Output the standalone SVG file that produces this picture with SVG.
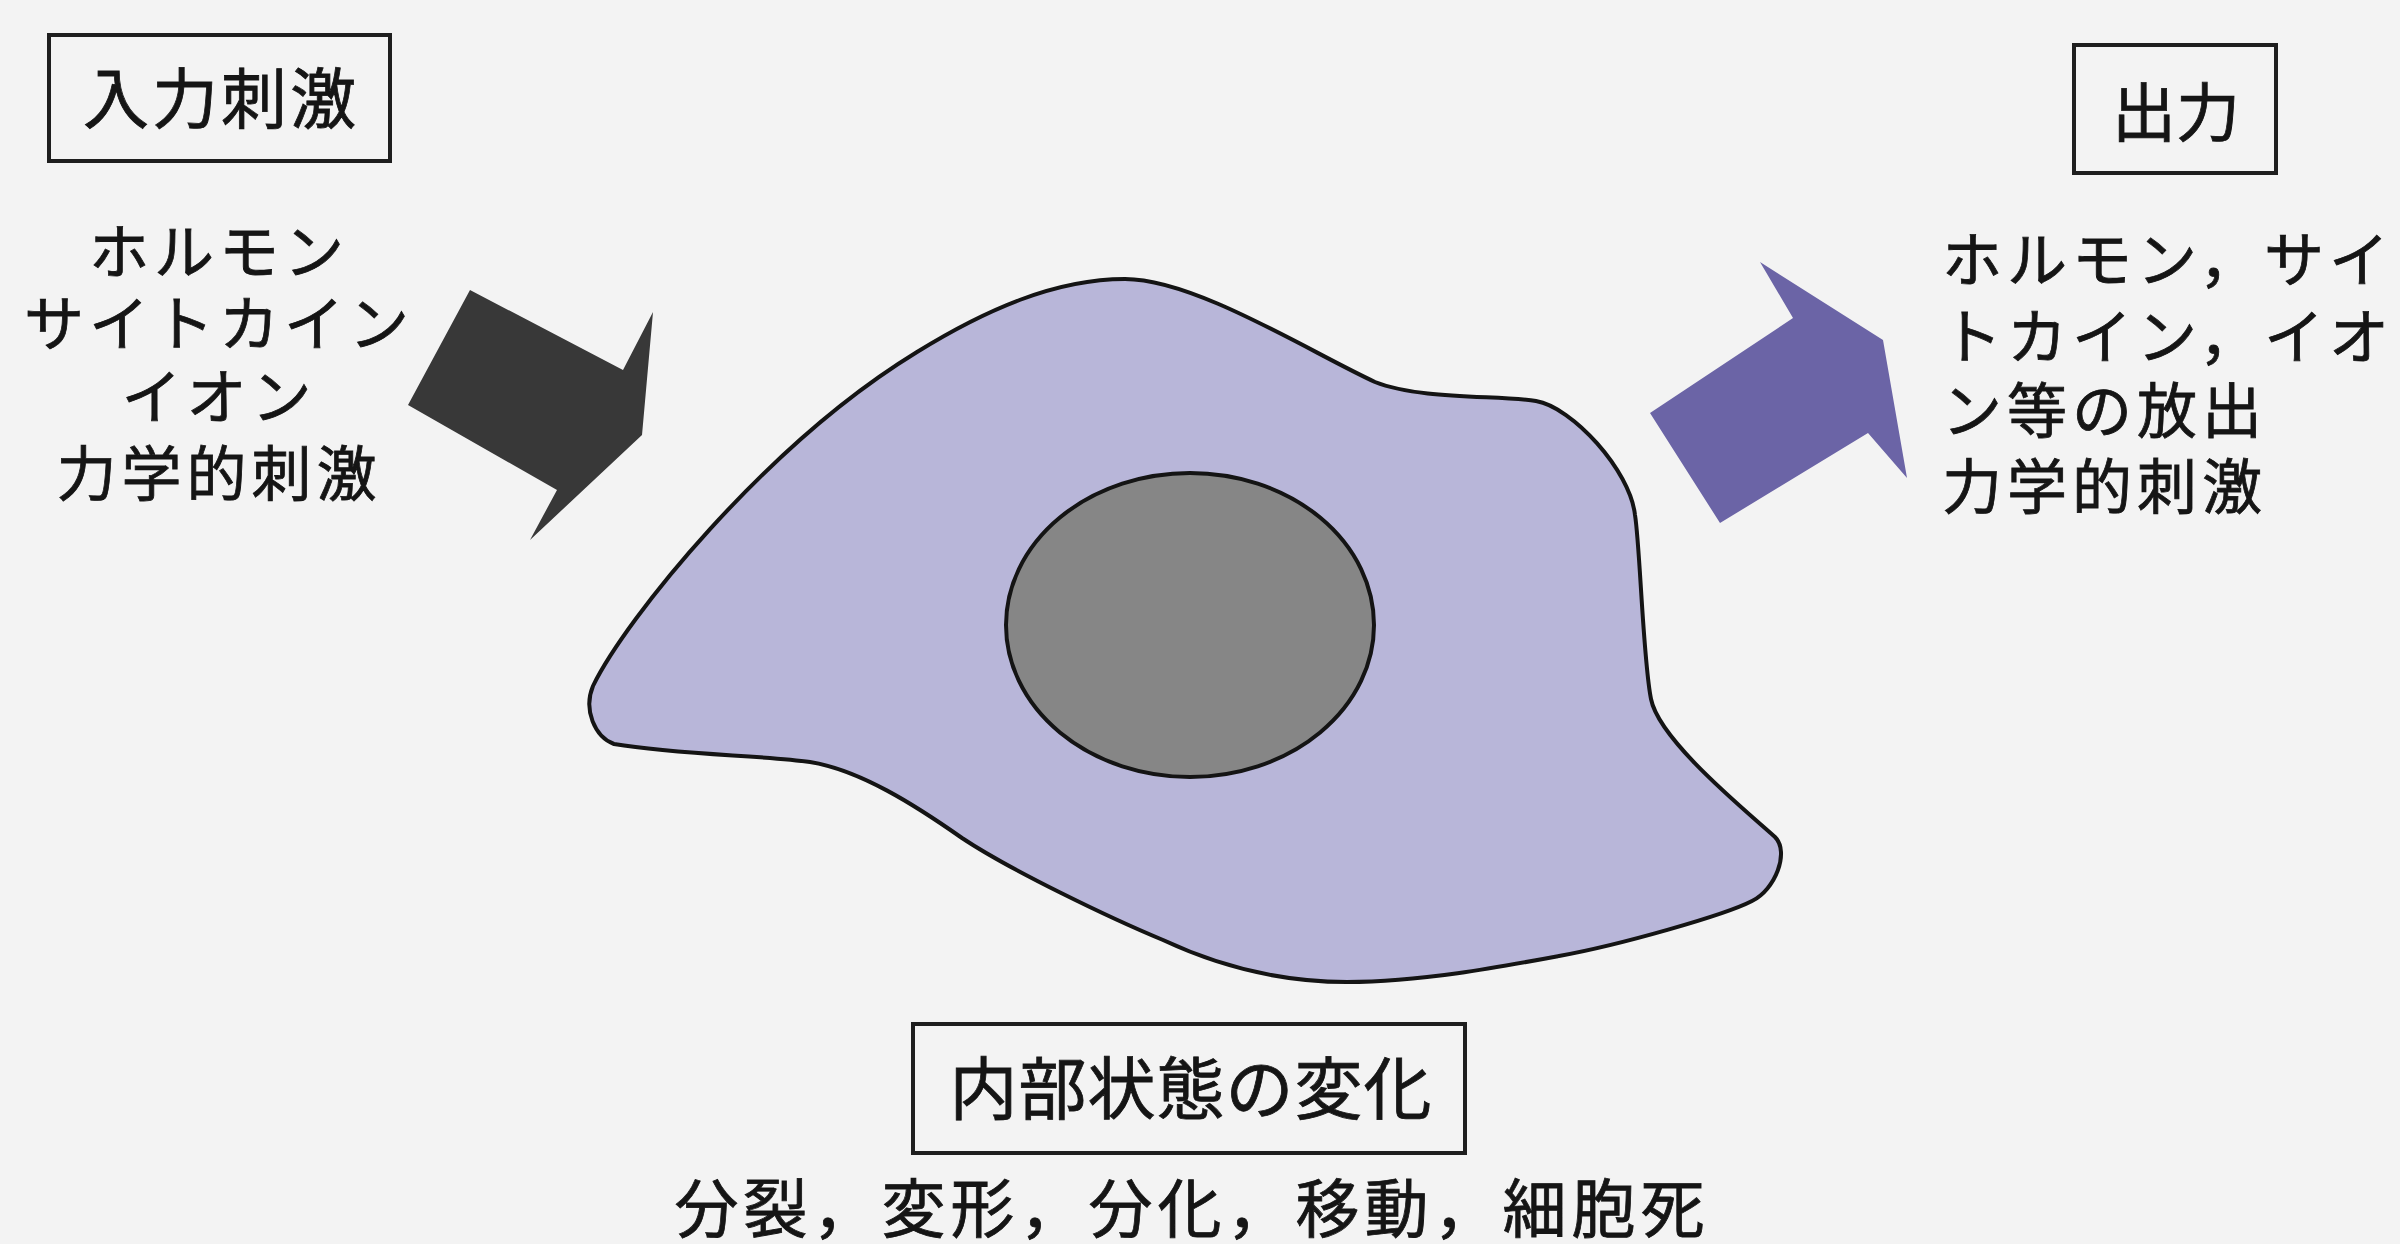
<svg xmlns="http://www.w3.org/2000/svg" width="2400" height="1244" viewBox="0 0 2400 1244">
  <style>
    .t { font-family: "Noto Sans CJK JP", "Noto Sans CJK SC", sans-serif; fill: #151515; stroke: #151515; stroke-width: 0.8; font-weight: 400; }
    .box { fill: none; stroke: #1e1e1e; stroke-width: 4; }
    .outline { stroke: #141414; stroke-width: 4; stroke-linejoin: round; }
  </style>
  <rect x="0" y="0" width="2400" height="1244" fill="#f3f3f3"/>

  <!-- input stimulus label -->
  <g id="input-label">
    <rect class="box" x="49" y="35" width="341" height="126"/>
    <text class="t" x="221" y="123" font-size="66" letter-spacing="3" text-anchor="middle">入力刺激</text>
  </g>
  <g id="input-list">
    <text class="t" x="219" y="274" font-size="60" letter-spacing="5" text-anchor="middle">ホルモン</text>
    <text class="t" x="219" y="346" font-size="60" letter-spacing="5" text-anchor="middle">サイトカイン</text>
    <text class="t" x="219" y="419" font-size="60" letter-spacing="5" text-anchor="middle">イオン</text>
    <text class="t" x="219" y="496" font-size="60" letter-spacing="5" text-anchor="middle">力学的刺激</text>
  </g>

  <!-- the cell and its nucleus -->
  <g id="cell">
    <path class="outline" fill="#b8b6d9" d="M 1125 279
      C 1195 279, 1310 352, 1375 382
      C 1420 400, 1500 395, 1536 401
      C 1572 407, 1630 470, 1635 515
      C 1640 545, 1643 660, 1651 699
      C 1659 740, 1745 810, 1775 837
      C 1790 852, 1775 890, 1752 901
      C 1725 915, 1620 945, 1559 956
      C 1500 967, 1420 982, 1347 982
      C 1270 982, 1210 962, 1163 940
      C 1110 918, 1010 870, 962 838
      C 915 805, 860 770, 810 762
      C 760 755, 680 755, 614 744
      C 595 737, 583 710, 593 686
      C 625 620, 765 445, 917 352
      C 985 310, 1055 279, 1125 279 Z"/>
    <ellipse id="nucleus" class="outline" fill="#868686" cx="1190" cy="625" rx="184" ry="152"/>
  </g>

  <!-- output label -->
  <g id="output-label">
    <rect class="box" x="2074" y="45" width="202" height="128"/>
    <text class="t" x="2176" y="136" font-size="64" text-anchor="middle">出力</text>
  </g>
  <g id="output-list">
    <text class="t" x="1942" y="282" font-size="60" letter-spacing="5">ホルモン，サイ</text>
    <text class="t" x="1942" y="359" font-size="60" letter-spacing="5">トカイン，イオ</text>
    <text class="t" x="1942" y="433" font-size="60" letter-spacing="5">ン等の放出</text>
    <text class="t" x="1942" y="509" font-size="60" letter-spacing="5">力学的刺激</text>
  </g>

  <!-- internal state change -->
  <g id="internal-label">
    <rect class="box" x="913" y="1024" width="552" height="129"/>
    <text class="t" x="1191" y="1114" font-size="68" letter-spacing="1" text-anchor="middle">内部状態の変化</text>
  </g>
  <g id="internal-list">
    <text class="t" x="1192" y="1232" font-size="64" letter-spacing="5" text-anchor="middle">分裂，変形，分化，移動，細胞死</text>
  </g>

  <!-- block arrows: stimulus in, release out -->
  <g id="connectors">
    <polygon id="arrow-in" fill="#383838" points="470,290 623,370 653,312 642,435 530,540 557,490 408,405"/>
    <polygon id="arrow-out" fill="#6b64a6" points="1650,413 1793,318 1760,262 1883,340 1907,478 1868,433 1720,523"/>
  </g>
</svg>
